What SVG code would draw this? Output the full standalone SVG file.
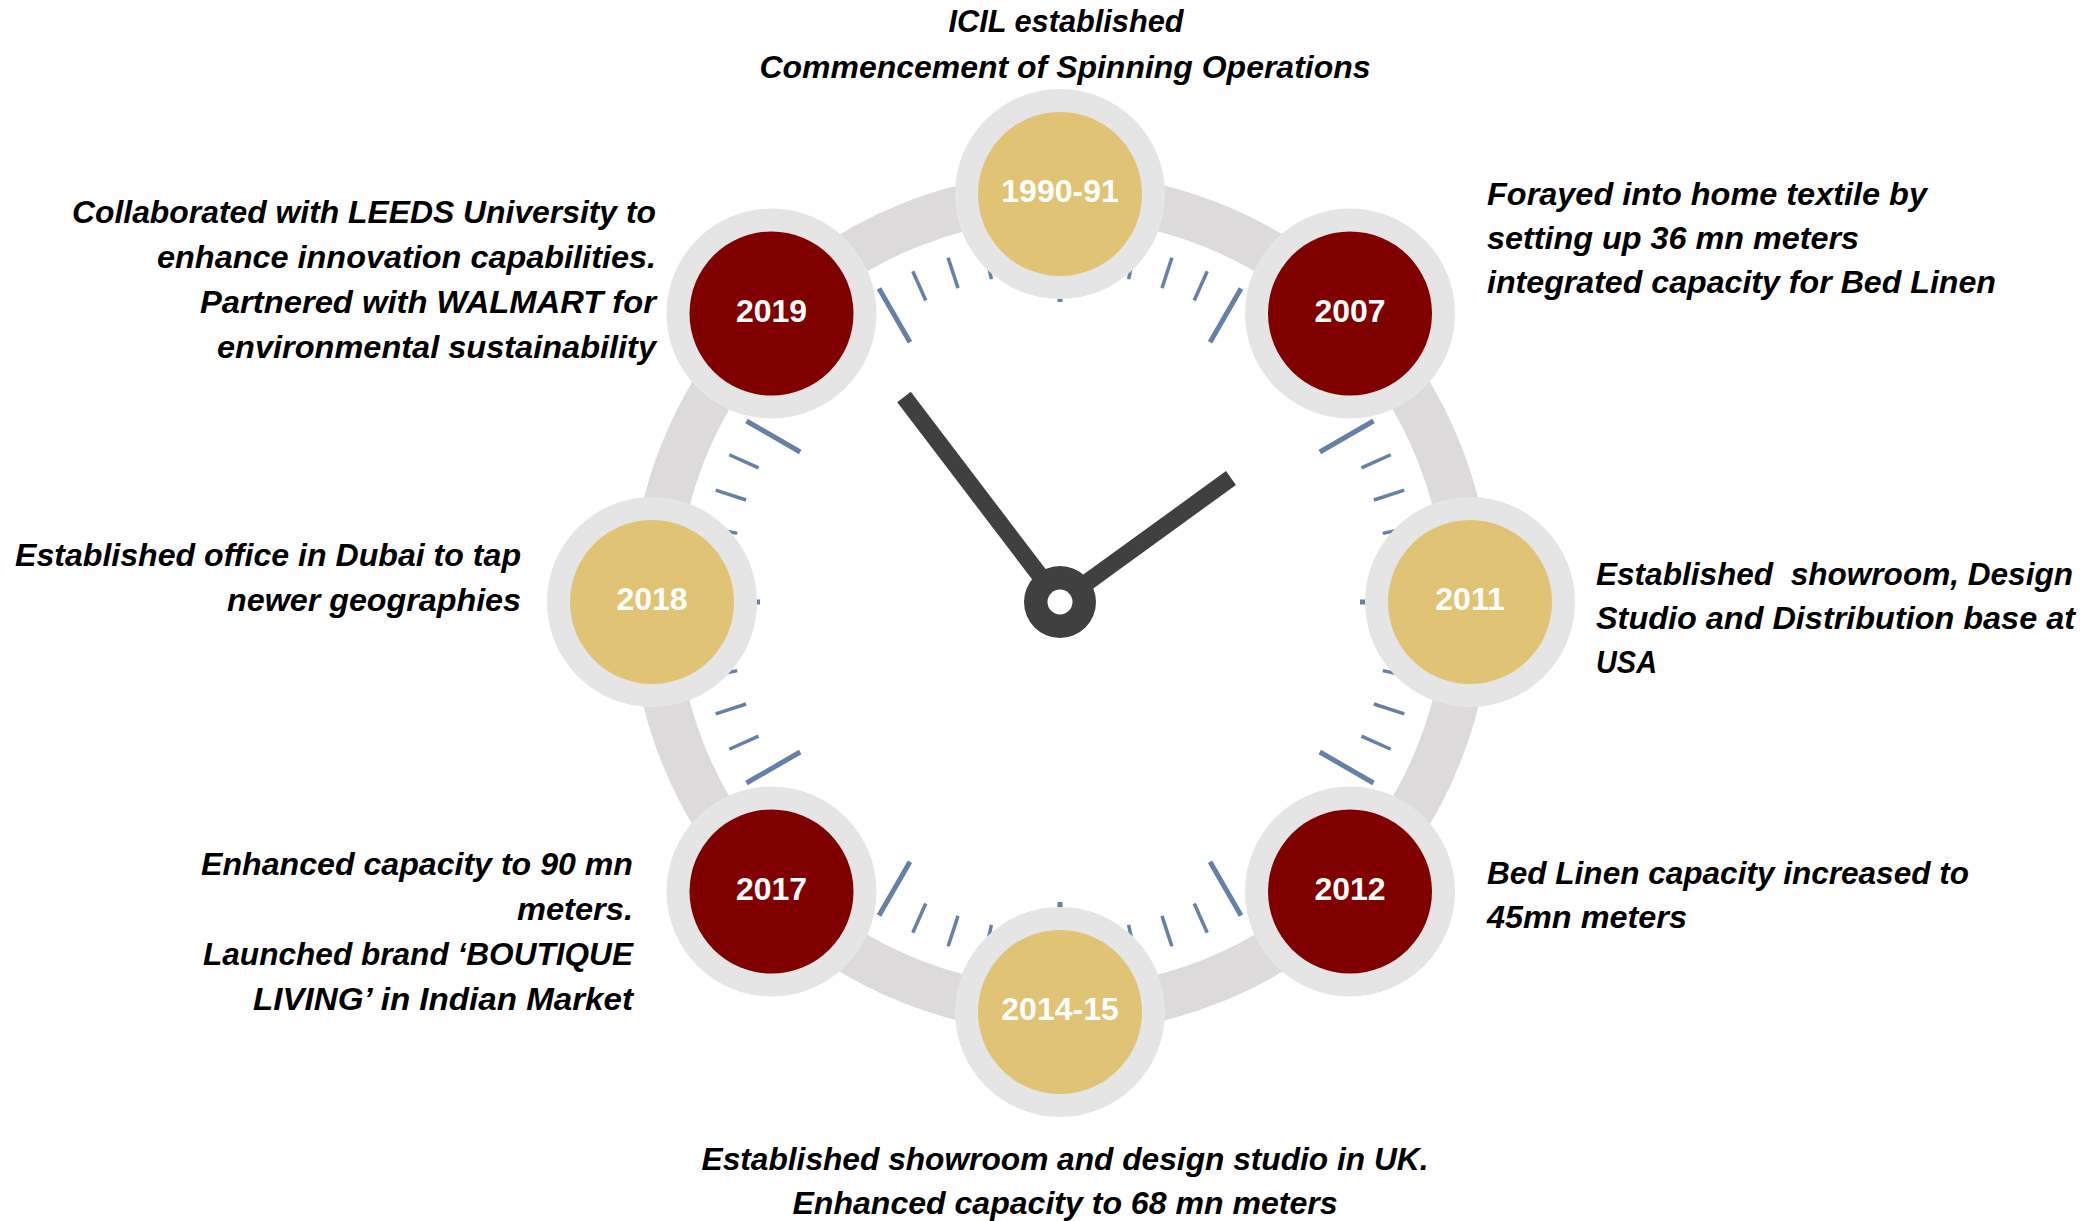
<svg xmlns="http://www.w3.org/2000/svg" xmlns:xlink="http://www.w3.org/1999/xlink" width="2090" height="1221" viewBox="0 0 2090 1221">
<style>
.desc{font-family:'Liberation Sans',Arial,sans-serif;font-weight:bold;font-style:italic;font-size:31px;fill:#000}
.end{text-anchor:end}
.mid{text-anchor:middle}
.yr{font-family:'Liberation Sans',Arial,sans-serif;font-weight:bold;font-size:32px;fill:#fff;text-anchor:middle}
.halo{fill:#E5E5E5}
.gold{fill:#E0C374}
.red{fill:#800000}
.tick{stroke:#6681A5;stroke-width:3.5}
.htick{stroke:#6681A5;stroke-width:5}
.hand{stroke:#404040;stroke-width:17;stroke-linecap:butt}
</style>
<defs>
<line id="mt" class="tick" x1="1060" y1="272" x2="1060" y2="240"/>
<line id="ht" class="htick" x1="1060" y1="302" x2="1060" y2="240"/>
</defs>
<rect width="2090" height="1221" fill="#fff"/>
<g id="clock-face">
<circle cx="1061" cy="603" r="407" fill="none" stroke="#DCDADB" stroke-width="46"/>
<g id="ticks">
<use href="#ht" transform="rotate(0 1060 602)"/>
<use href="#mt" transform="rotate(6 1060 602)"/>
<use href="#mt" transform="rotate(12 1060 602)"/>
<use href="#mt" transform="rotate(18 1060 602)"/>
<use href="#mt" transform="rotate(24 1060 602)"/>
<use href="#ht" transform="rotate(30 1060 602)"/>
<use href="#mt" transform="rotate(36 1060 602)"/>
<use href="#mt" transform="rotate(42 1060 602)"/>
<use href="#mt" transform="rotate(48 1060 602)"/>
<use href="#mt" transform="rotate(54 1060 602)"/>
<use href="#ht" transform="rotate(60 1060 602)"/>
<use href="#mt" transform="rotate(66 1060 602)"/>
<use href="#mt" transform="rotate(72 1060 602)"/>
<use href="#mt" transform="rotate(78 1060 602)"/>
<use href="#mt" transform="rotate(84 1060 602)"/>
<use href="#ht" transform="rotate(90 1060 602)"/>
<use href="#mt" transform="rotate(96 1060 602)"/>
<use href="#mt" transform="rotate(102 1060 602)"/>
<use href="#mt" transform="rotate(108 1060 602)"/>
<use href="#mt" transform="rotate(114 1060 602)"/>
<use href="#ht" transform="rotate(120 1060 602)"/>
<use href="#mt" transform="rotate(126 1060 602)"/>
<use href="#mt" transform="rotate(132 1060 602)"/>
<use href="#mt" transform="rotate(138 1060 602)"/>
<use href="#mt" transform="rotate(144 1060 602)"/>
<use href="#ht" transform="rotate(150 1060 602)"/>
<use href="#mt" transform="rotate(156 1060 602)"/>
<use href="#mt" transform="rotate(162 1060 602)"/>
<use href="#mt" transform="rotate(168 1060 602)"/>
<use href="#mt" transform="rotate(174 1060 602)"/>
<use href="#ht" transform="rotate(180 1060 602)"/>
<use href="#mt" transform="rotate(186 1060 602)"/>
<use href="#mt" transform="rotate(192 1060 602)"/>
<use href="#mt" transform="rotate(198 1060 602)"/>
<use href="#mt" transform="rotate(204 1060 602)"/>
<use href="#ht" transform="rotate(210 1060 602)"/>
<use href="#mt" transform="rotate(216 1060 602)"/>
<use href="#mt" transform="rotate(222 1060 602)"/>
<use href="#mt" transform="rotate(228 1060 602)"/>
<use href="#mt" transform="rotate(234 1060 602)"/>
<use href="#ht" transform="rotate(240 1060 602)"/>
<use href="#mt" transform="rotate(246 1060 602)"/>
<use href="#mt" transform="rotate(252 1060 602)"/>
<use href="#mt" transform="rotate(258 1060 602)"/>
<use href="#mt" transform="rotate(264 1060 602)"/>
<use href="#ht" transform="rotate(270 1060 602)"/>
<use href="#mt" transform="rotate(276 1060 602)"/>
<use href="#mt" transform="rotate(282 1060 602)"/>
<use href="#mt" transform="rotate(288 1060 602)"/>
<use href="#mt" transform="rotate(294 1060 602)"/>
<use href="#ht" transform="rotate(300 1060 602)"/>
<use href="#mt" transform="rotate(306 1060 602)"/>
<use href="#mt" transform="rotate(312 1060 602)"/>
<use href="#mt" transform="rotate(318 1060 602)"/>
<use href="#mt" transform="rotate(324 1060 602)"/>
<use href="#ht" transform="rotate(330 1060 602)"/>
<use href="#mt" transform="rotate(336 1060 602)"/>
<use href="#mt" transform="rotate(342 1060 602)"/>
<use href="#mt" transform="rotate(348 1060 602)"/>
<use href="#mt" transform="rotate(354 1060 602)"/>
</g>
</g>
<g id="connectors">
<line class="hand" x1="1060" y1="602" x2="904" y2="397"/>
<line class="hand" x1="1060" y1="602" x2="1231" y2="478"/>
<circle cx="1060" cy="602" r="36" fill="#404040"/>
<circle cx="1060" cy="602" r="12.5" fill="#fff"/>
</g>
<g id="node-1990">
<circle class="halo" cx="1060" cy="194" r="105"/>
<circle class="gold" cx="1060" cy="194" r="82"/>
<text class="yr" x="1060" y="202">1990-91</text>
<text class="desc mid" x="1066" y="32" textLength="235" lengthAdjust="spacingAndGlyphs">ICIL established</text>
<text class="desc mid" x="1065" y="78" textLength="611" lengthAdjust="spacingAndGlyphs">Commencement of Spinning Operations</text>
</g>
<g id="node-2007">
<circle class="halo" cx="1350" cy="313.5" r="105"/>
<circle class="red" cx="1350" cy="313.5" r="82"/>
<text class="yr" x="1350" y="321.5">2007</text>
<text class="desc" x="1487" y="205" textLength="440" lengthAdjust="spacingAndGlyphs">Forayed into home textile by</text>
<text class="desc" x="1487" y="249" textLength="372" lengthAdjust="spacingAndGlyphs">setting up 36 mn meters</text>
<text class="desc" x="1487" y="293" textLength="509" lengthAdjust="spacingAndGlyphs">integrated capacity for Bed Linen</text>
</g>
<g id="node-2011">
<circle class="halo" cx="1470" cy="602" r="105"/>
<circle class="gold" cx="1470" cy="602" r="82"/>
<text class="yr" x="1470" y="610">2011</text>
<text class="desc" x="1596" y="585" textLength="477" lengthAdjust="spacingAndGlyphs" xml:space="preserve">Established  showroom, Design</text>
<text class="desc" x="1596" y="629" textLength="479" lengthAdjust="spacingAndGlyphs">Studio and Distribution base at</text>
<text class="desc" x="1596" y="673" textLength="61" lengthAdjust="spacingAndGlyphs">USA</text>
</g>
<g id="node-2012">
<circle class="halo" cx="1350" cy="891.5" r="105"/>
<circle class="red" cx="1350" cy="891.5" r="82"/>
<text class="yr" x="1350" y="899.5">2012</text>
<text class="desc" x="1487" y="884" textLength="482" lengthAdjust="spacingAndGlyphs">Bed Linen capacity increased to</text>
<text class="desc" x="1487" y="928" textLength="200" lengthAdjust="spacingAndGlyphs">45mn meters</text>
</g>
<g id="node-2014">
<circle class="halo" cx="1060" cy="1012" r="105"/>
<circle class="gold" cx="1060" cy="1012" r="82"/>
<text class="yr" x="1060" y="1020">2014-15</text>
<text class="desc mid" x="1065" y="1170" textLength="727" lengthAdjust="spacingAndGlyphs">Established showroom and design studio in UK.</text>
<text class="desc mid" x="1065" y="1214" textLength="545" lengthAdjust="spacingAndGlyphs">Enhanced capacity to 68 mn meters</text>
</g>
<g id="node-2017">
<circle class="halo" cx="771.5" cy="891.5" r="105"/>
<circle class="red" cx="771.5" cy="891.5" r="82"/>
<text class="yr" x="771.5" y="899.5">2017</text>
<text class="desc end" x="633" y="875" textLength="432" lengthAdjust="spacingAndGlyphs">Enhanced capacity to 90 mn</text>
<text class="desc end" x="633" y="920" textLength="116" lengthAdjust="spacingAndGlyphs">meters.</text>
<text class="desc end" x="633" y="965" textLength="430" lengthAdjust="spacingAndGlyphs">Launched brand ‘BOUTIQUE</text>
<text class="desc end" x="633" y="1010" textLength="380" lengthAdjust="spacingAndGlyphs">LIVING’ in Indian Market</text>
</g>
<g id="node-2018">
<circle class="halo" cx="652" cy="602" r="105"/>
<circle class="gold" cx="652" cy="602" r="82"/>
<text class="yr" x="652" y="610">2018</text>
<text class="desc end" x="521" y="566" textLength="506" lengthAdjust="spacingAndGlyphs">Established office in Dubai to tap</text>
<text class="desc end" x="521" y="611" textLength="294" lengthAdjust="spacingAndGlyphs">newer geographies</text>
</g>
<g id="node-2019">
<circle class="halo" cx="771.5" cy="313.5" r="105"/>
<circle class="red" cx="771.5" cy="313.5" r="82"/>
<text class="yr" x="771.5" y="321.5">2019</text>
<text class="desc end" x="656" y="223" textLength="584" lengthAdjust="spacingAndGlyphs">Collaborated with LEEDS University to</text>
<text class="desc end" x="656" y="268" textLength="499" lengthAdjust="spacingAndGlyphs">enhance innovation capabilities.</text>
<text class="desc end" x="656" y="313" textLength="456" lengthAdjust="spacingAndGlyphs">Partnered with WALMART for</text>
<text class="desc end" x="656" y="358" textLength="439" lengthAdjust="spacingAndGlyphs">environmental sustainability</text>
</g>
</svg>
